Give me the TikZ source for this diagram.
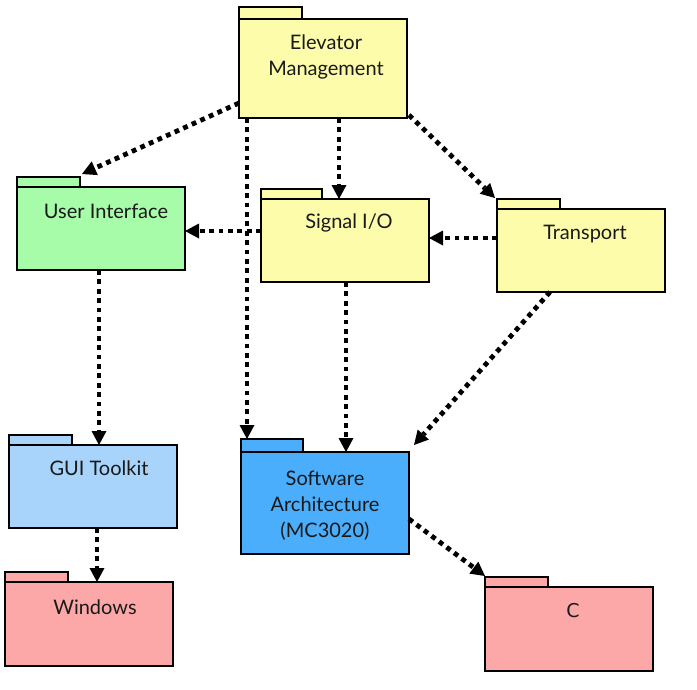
\documentclass[tikz,border=0pt]{standalone}
\usepackage{fontspec}
\setmainfont{Lato}
\newfontfamily\cfont{DejaVu Sans}
\usetikzlibrary{arrows.meta,calc}
\definecolor{pkyellow}{HTML}{FCFCAA}
\definecolor{pkgreen}{HTML}{A6FCA8}
\definecolor{pklblue}{HTML}{A8D4FC}
\definecolor{pkblue}{HTML}{4AAEFC}
\definecolor{pkpink}{HTML}{FCA8A8}
\tikzset{
  pkg/.style={draw=black, line width=2.8pt, inner sep=0pt, outer sep=0pt},
  pkglabel/.style={font=\fontsize{20}{26}\selectfont, align=center, text=black!90, inner sep=0pt},
  dep/.style={line width=4.8pt, dash pattern=on 4.8pt off 4.6pt, -{Triangle[length=14pt,width=15pt,line width=0pt]}, shorten >=0pt}
}
% #1 name, #2 left, #3 tab top, #4 tab right, #5 body top, #6 right, #7 bottom, #8 colour
\newcommand\umlpkg[8]{%
  \node[pkg, fill=#8, minimum width={(#4-#2)*1pt}, minimum height={(#5-#3)*1pt}] (#1tab) at ({(#2+#4)/2},{(#3+#5)/2}) {};
  \node[pkg, fill=#8, minimum width={(#6-#2)*1pt}, minimum height={(#7-#5)*1pt}] (#1) at ({(#2+#6)/2},{(#5+#7)/2}) {};
}
\begin{document}
\begin{tikzpicture}[x=1pt,y=-1pt]
\useasboundingbox (0,0) rectangle (697,689);
\fill[white] (0,0) rectangle (697,689);
\umlpkg{em}{239}{7}{302}{19}{407}{118}{pkyellow}
\umlpkg{ui}{17}{177}{80}{187}{185}{270}{pkgreen}
\umlpkg{sig}{261}{189}{322}{199}{429}{282}{pkyellow}
\umlpkg{tr}{497}{199}{560}{209}{665}{292}{pkyellow}
\umlpkg{gui}{9}{435}{72}{445}{177}{528}{pklblue}
\umlpkg{sa}{241}{439}{303}{452}{409}{554}{pkblue}
\umlpkg{win}{5}{572}{68}{582}{173}{666}{pkpink}
\umlpkg{c}{485}{577}{548}{587}{653}{671}{pkpink}

\node[pkglabel] (emlbl) at (326,57) {Elevator\\Management};
\node[pkglabel] (uilbl) at (106,211) {User Interface};
\node[pkglabel] (siglbl) at (349,223) {Signal I/O};
\node[pkglabel] (trlbl) at (585,234) {Transport};
\node[pkglabel] (guilbl) at (99,468) {GUI Toolkit};
\node[pkglabel] (salbl) at (325,506) {Software\\Architecture\\(MC3020)};
\node[pkglabel] (winlbl) at (95,607) {Windows};
\node[pkglabel, font=\cfont\fontsize{19}{22}\selectfont] (clbl) at (573,611) {C};

\draw[dep] ($(em.west)+(0,34.5)$) -- ($(uitab.north east)+(2,-3)$);
\draw[dep] ($(em.south west)+(8,0)$) -- ($(satab.north west)+(6,0)$);
\draw[dep] ($(em.south)+(16,0)$) -- ($(sig.north)+(-6,0)$);
\draw[dep] ($(em.south east)+(2,-3)$) -- ($(trtab.north west)+(-2,-1)$);
\draw[dep] ($(sig.west)+(0,-9.5)$) -- ($(ui.east)+(0,2.5)$);
\draw[dep] ($(tr.west)+(0,-12.5)$) -- ($(sig.east)+(0,-2.5)$);
\draw[dep] ($(sig.south)+(1,0)$) -- ($(sa.north)+(21,0)$);
\draw[dep] ($(tr.south)+(-31,0)$) -- ($(sa.north east)+(5,-7)$);
\draw[dep] ($(ui.south)+(-2,0)$) -- ($(gui.north)+(6,0)$);
\draw[dep] ($(gui.south)+(4,0)$) -- ($(win.north)+(8,0)$);
\draw[dep] ($(sa.east)+(0,16)$) -- ($(ctab.north west)+(0,-1)$);
\end{tikzpicture}
\end{document}
